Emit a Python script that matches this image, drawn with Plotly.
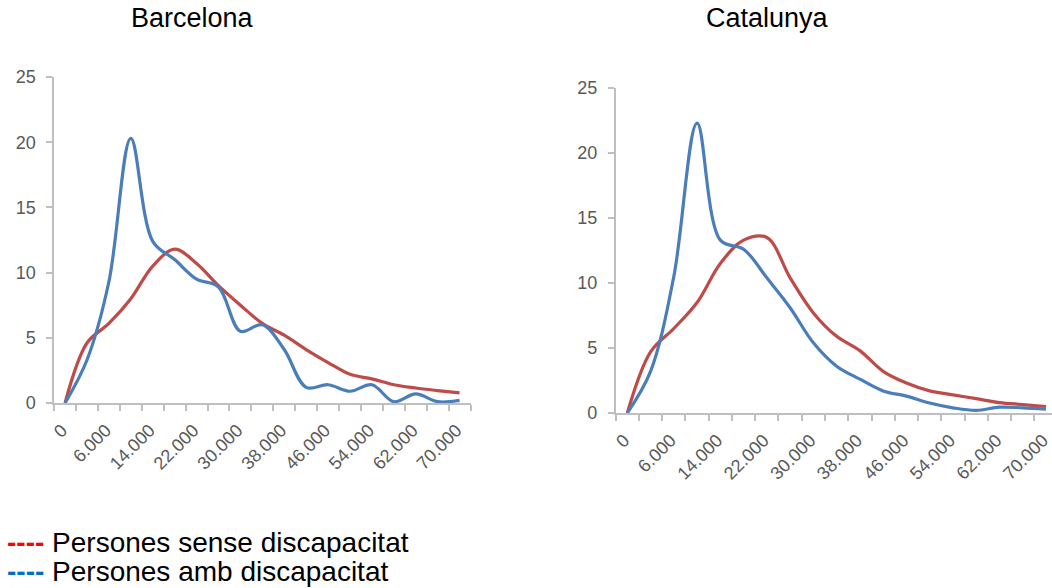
import plotly.graph_objects as go

# Income categories (only every second one is labelled on the axis)
categories = ["0", "2.000", "6.000", "10.000", "14.000", "18.000", "22.000", "26.000", "30.000",
              "34.000", "38.000", "42.000", "46.000", "50.000", "54.000", "58.000", "62.000",
              "66.000", "70.000"]
tick_labels = ["0", "6.000", "14.000", "22.000", "30.000", "38.000", "46.000", "54.000", "62.000", "70.000"]

bcn_sense = [0, 4.6, 6.1, 8.0, 10.5, 11.8, 10.7, 9.0, 7.5, 6.1, 5.2, 4.1, 3.1, 2.2, 1.85, 1.4, 1.15, 0.95, 0.77]
bcn_amb = [0, 3.3, 9.3, 20.3, 12.4, 11.0, 9.5, 8.9, 5.5, 6.0, 4.1, 1.2, 1.4, 0.9, 1.4, 0.1, 0.7, 0.1, 0.2]
cat_sense = [0, 4.7, 6.5, 8.5, 11.5, 13.3, 13.5, 10.4, 7.7, 5.9, 4.8, 3.2, 2.3, 1.7, 1.4, 1.1, 0.8, 0.65, 0.5]
cat_amb = [0, 3.2, 10.5, 22.3, 13.3, 12.6, 10.4, 8.1, 5.4, 3.6, 2.6, 1.7, 1.3, 0.77, 0.4, 0.2, 0.45, 0.4, 0.3]

RED = "#BE4B48"
BLUE = "#4A7EBB"
AXIS = "#BFBFBF"
LABEL = "#595959"
FONT = "Liberation Sans"

idx = list(range(len(categories)))

fig = go.Figure()
for xa, ya, sense, amb in [("x", "y", bcn_sense, bcn_amb), ("x2", "y2", cat_sense, cat_amb)]:
    fig.add_trace(go.Scatter(x=idx, y=sense, mode="lines", xaxis=xa, yaxis=ya,
                             line=dict(color=RED, width=3.2, shape="spline", smoothing=1),
                             showlegend=False, name="Persones sense discapacitat",
                             customdata=categories))
    fig.add_trace(go.Scatter(x=idx, y=amb, mode="lines", xaxis=xa, yaxis=ya,
                             line=dict(color=BLUE, width=3.2, shape="spline", smoothing=1),
                             showlegend=False, name="Persones amb discapacitat",
                             customdata=categories))

W, H = 1052, 588


# target screen pixel -> paper fraction (calibrated against the rendered page)
def px(s):
    return (s + 1) / W


def py(s):
    return 1 - ((s - 10.3) / 0.966) / H


tickvals = idx[::2]


def xaxis(domain, rng):
    return dict(domain=domain, range=rng, showline=True, linecolor=AXIS, linewidth=1.5,
                tickmode="array", tickvals=tickvals, ticktext=tick_labels, ticks="",
                tickangle=-45, tickfont=dict(family=FONT, size=18, color=LABEL),
                ticklabelstandoff=8, ticklabelshift=-3, ticklabeloverflow="allow",
                showgrid=False, zeroline=False, fixedrange=True,
                minor=dict(tickmode="linear", tick0=-0.5, dtick=1, ticks="outside",
                           ticklen=6, tickcolor=AXIS, tickwidth=1.5, showgrid=False))


def yaxis(domain, anchor):
    return dict(domain=domain, range=[0, 25], anchor=anchor, showline=True, linecolor=AXIS,
                linewidth=1.5, tickmode="linear", tick0=0, dtick=5, ticks="outside",
                ticklen=6, tickcolor=AXIS, tickwidth=1.5, ticklabelstandoff=7,
                tickfont=dict(family=FONT, size=18, color=LABEL),
                showgrid=False, zeroline=False, fixedrange=True)


fig.update_layout(
    width=W, height=H, margin=dict(l=0, r=0, t=0, b=0),
    paper_bgcolor="white", plot_bgcolor="white",
    xaxis=dict(**xaxis([px(49.3), px(467.3)], [-0.5, 18.5]), anchor="y"),
    yaxis=yaxis([py(403.3), py(77.3)], "x"),
    xaxis2=dict(**xaxis([px(613), 1.0], [-0.5, 18.26]), anchor="y2"),
    yaxis2=yaxis([py(413.3), py(88.3)], "x2"),
    showlegend=False,
)

annots = [
    dict(text="Barcelona", x=px(188), y=py(18)),
    dict(text="Catalunya", x=px(765), y=py(18)),
]
for a in annots:
    fig.add_annotation(xref="paper", yref="paper", xanchor="center", yanchor="middle",
                       showarrow=False, font=dict(family=FONT, size=27, color="black"), **a)

legend_items = [
    ("#FF0000", "Persones sense discapacitat", 542.5),
    ("#0070C0", "Persones amb discapacitat", 571.5),
]
for col, txt, ypx in legend_items:
    fig.add_annotation(xref="paper", yref="paper", x=px(0), y=py(ypx),
                       xanchor="left", yanchor="middle", showarrow=False,
                       text=f'<span style="color:{col}"><b>----</b></span> {txt}',
                       font=dict(family=FONT, size=28, color="black"))

fig.write_html("out.html", config={"displayModeBar": False},
               post_script="document.body.style.margin='0';document.body.style.overflow='hidden';")
